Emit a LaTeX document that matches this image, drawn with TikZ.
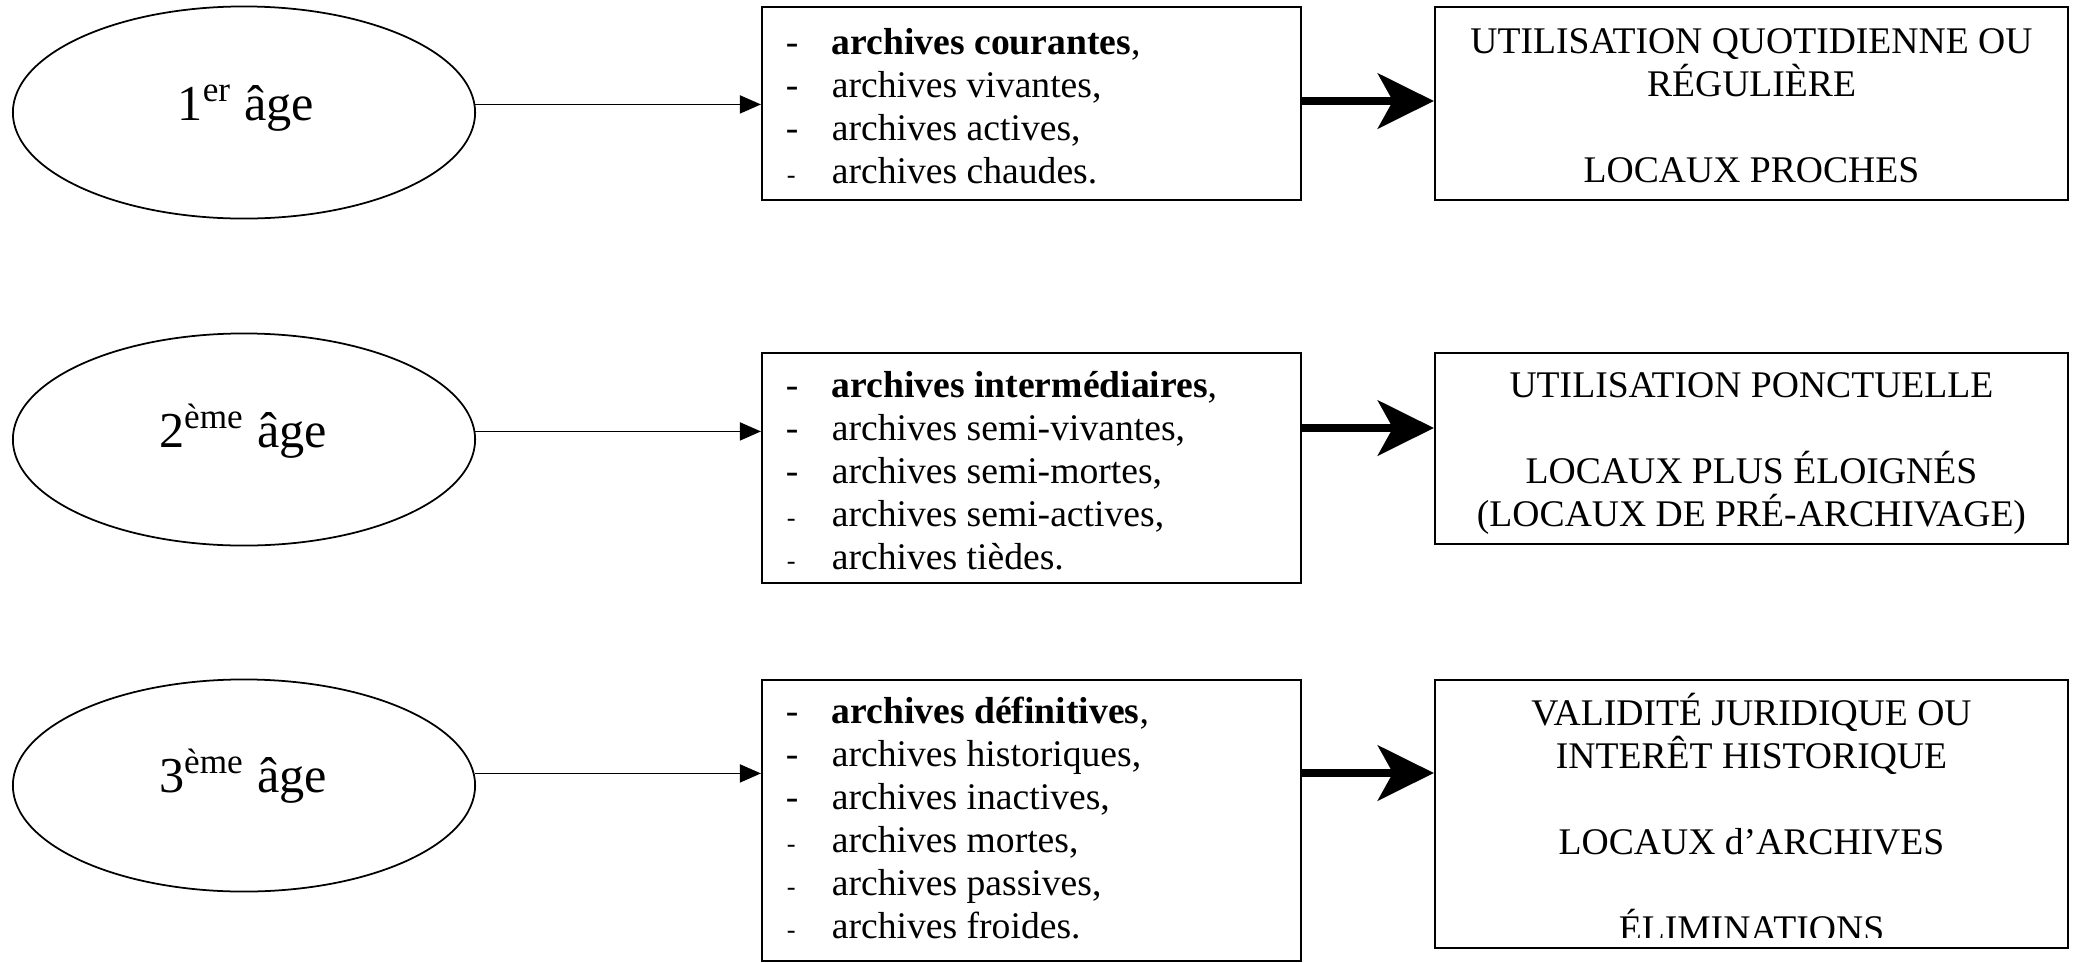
\documentclass[tikz,border=0pt]{standalone}
\usepackage{fontspec}
\setmainfont{Liberation Serif}
\usetikzlibrary{arrows.meta,shapes.geometric}
\begin{document}
\begin{tikzpicture}[x=0.01cm,y=-0.01cm,line width=0.5pt,
  agebox/.style={draw,ellipse,inner sep=0pt,minimum width=4.62cm,minimum height=2.12cm},
  listbox/.style={draw,rectangle,inner sep=0pt,minimum width=5.39cm},
  usebox/.style={draw,rectangle,inner sep=0pt,minimum width=6.33cm},
  agetxt/.style={inner sep=0pt,anchor=base,font=\fontsize{14.3}{16}\selectfont},
  txt/.style={inner sep=0pt,anchor=base west,font=\fontsize{10.7}{12.3}\selectfont},
  ctxt/.style={inner sep=0pt,anchor=base,font=\fontsize{10.7}{12.3}\selectfont},
  bigdash/.style={inner sep=0pt,anchor=base west,font=\fontsize{10.7}{12.3}\selectfont},
  smalldash/.style={inner sep=0pt,anchor=base west,font=\fontsize{7.5}{9}\selectfont},
  thinarrow/.style={line width=0.45pt,-{Triangle[length=2.1mm,width=1.8mm]}},
  thickarrow/.style={line width=2.3pt,-{Stealth[length=5.6mm,width=5.5mm,inset=1.5mm]}}]
\useasboundingbox (0,0) rectangle (2074,963);

% ellipses
\node[agebox] (e1) at (244,112.5) {};
\node[agebox] (e2) at (244,439.5) {};
\node[agebox] (e3) at (244,785.5) {};
\node[agetxt] (e1t) at (246,120) {1\textsuperscript{er} âge};
\node[agetxt] (e2t) at (243,447) {2\textsuperscript{ème} âge};
\node[agetxt] (e3t) at (243,792) {3\textsuperscript{ème} âge};

% middle boxes
\node[listbox,minimum height=1.93cm] (m1) at (1031.5,103.5) {};
\node[listbox,minimum height=2.30cm] (m2) at (1031.5,468) {};
\node[listbox,minimum height=2.81cm] (m3) at (1031.5,820.5) {};

% right boxes
\node[usebox,minimum height=1.93cm] (r1) at (1751.5,103.5) {};
\node[usebox,minimum height=1.91cm] (r2) at (1751.5,448.5) {};
\node[usebox,minimum height=2.68cm] (r3) at (1751.5,814) {};

% list 1
\node[bigdash] (d11) at (785,54) {-};
\node[txt] (l11) at (831,54) {\textbf{archives courantes},};
\node[bigdash] (d12) at (785,97) {-};
\node[txt] (l12) at (831,97) {archives vivantes,};
\node[bigdash] (d13) at (785,140) {-};
\node[txt] (l13) at (831,140) {archives actives,};
\node[smalldash] (d14) at (786,183) {-};
\node[txt] (l14) at (831,183) {archives chaudes.};

% list 2
\node[bigdash] (d21) at (785,397) {-};
\node[txt] (l21) at (831,397) {\textbf{archives intermédiaires},};
\node[bigdash] (d22) at (785,440) {-};
\node[txt] (l22) at (831,440) {archives semi-vivantes,};
\node[bigdash] (d23) at (785,483) {-};
\node[txt] (l23) at (831,483) {archives semi-mortes,};
\node[smalldash] (d24) at (786,526) {-};
\node[txt] (l24) at (831,526) {archives semi-actives,};
\node[smalldash] (d25) at (786,569) {-};
\node[txt] (l25) at (831,569) {archives tièdes.};

% list 3
\node[bigdash] (d31) at (785,723) {-};
\node[txt] (l31) at (831,723) {\textbf{archives définitives},};
\node[bigdash] (d32) at (785,766) {-};
\node[txt] (l32) at (831,766) {archives historiques,};
\node[bigdash] (d33) at (785,809) {-};
\node[txt] (l33) at (831,809) {archives inactives,};
\node[smalldash] (d34) at (786,852) {-};
\node[txt] (l34) at (831,852) {archives mortes,};
\node[smalldash] (d35) at (786,895) {-};
\node[txt] (l35) at (831,895) {archives passives,};
\node[smalldash] (d36) at (786,938) {-};
\node[txt] (l36) at (831,938) {archives froides.};

% right texts
\node[ctxt] (u11) at (1751.5,53) {UTILISATION QUOTIDIENNE OU};
\node[ctxt] (u12) at (1751.5,96) {RÉGULIÈRE};
\node[ctxt] (u13) at (1751.5,182) {LOCAUX PROCHES};

\node[ctxt] (u21) at (1751.5,397) {UTILISATION PONCTUELLE};
\node[ctxt] (u22) at (1751.5,483) {LOCAUX PLUS ÉLOIGNÉS};
\node[ctxt] (u23) at (1751.5,526) {(LOCAUX DE PRÉ-ARCHIVAGE)};

\node[ctxt] (u31) at (1751.5,725) {VALIDITÉ JURIDIQUE OU};
\node[ctxt] (u32) at (1751.5,768) {INTERÊT HISTORIQUE};
\node[ctxt] (u33) at (1751.5,854) {LOCAUX d’ARCHIVES};
\begin{scope}
  \clip (1437,682) rectangle (2066,937);
  \node[ctxt] (u34) at (1751.5,941) {ÉLIMINATIONS};
\end{scope}

% thin connectors
\draw[thinarrow] (e1.2.6) -- (m1.west |- e1.2.6);
\draw[thinarrow] (e2.2.9) -- (m2.west |- e2.2.9);
\draw[thinarrow] (e3.3.1) -- (m3.west |- e3.3.1);

% thick connectors
\coordinate (t1) at (1301,101);
\coordinate (t2) at (1301,428);
\coordinate (t3) at (1301,773);
\draw[thickarrow] (m1.east |- t1) -- (r1.west |- t1);
\draw[thickarrow] (m2.east |- t2) -- (r2.west |- t2);
\draw[thickarrow] (m3.east |- t3) -- (r3.west |- t3);
\end{tikzpicture}
\end{document}
